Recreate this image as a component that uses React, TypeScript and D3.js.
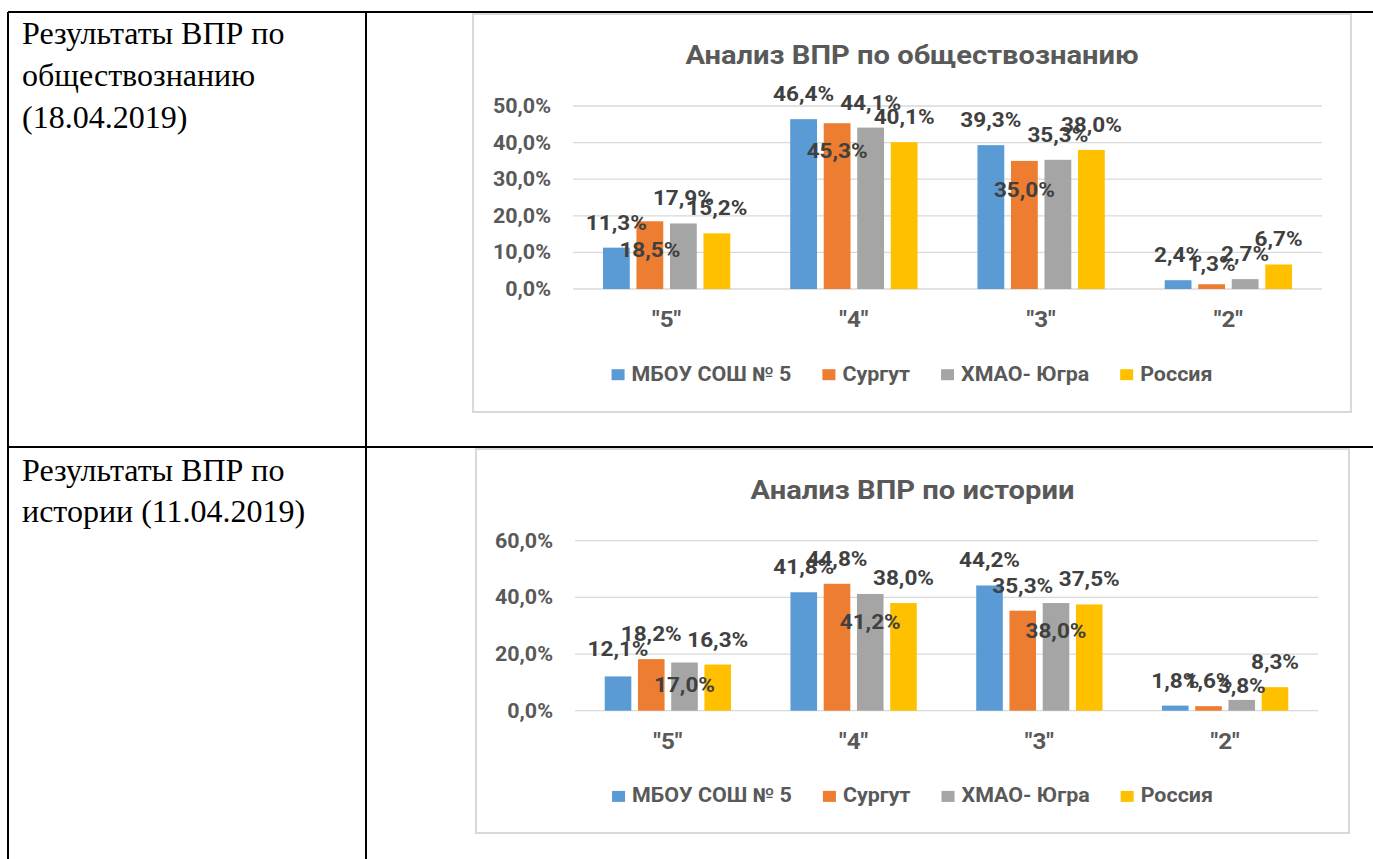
import React, { useEffect, useRef } from 'react';
import * as d3 from 'd3';

const categories = ['"5"', '"4"', '"3"', '"2"'];
const seriesNames = ['МБОУ СОШ № 5', 'Сургут', 'ХМАО- Югра', 'Россия'];
const seriesColors = ['#5B9BD5', '#ED7D31', '#A5A5A5', '#FFC000'];

// Анализ ВПР по обществознанию (доли)
const socialMbou = [0.113, 0.464, 0.393, 0.024];
const socialSurgut = [0.185, 0.453, 0.35, 0.013];
const socialHmao = [0.179, 0.441, 0.353, 0.027];
const socialRussia = [0.152, 0.401, 0.38, 0.067];

// Анализ ВПР по истории (доли)
const historyMbou = [0.121, 0.418, 0.442, 0.018];
const historySurgut = [0.182, 0.448, 0.353, 0.016];
const historyHmao = [0.17, 0.412, 0.38, 0.038];
const historyRussia = [0.163, 0.38, 0.375, 0.083];

// labels that were dragged by hand in the original (px down from the usual spot)
const socialLabelShift = [[0, 0, 0, 0], [54, 53, 54, 5], [0, 0, 0, 0], [0, 0, 0, 0]];
const historyLabelShift = [[-2, 0, 0, 0], [0, 0, 0, 0], [47, 53, 53, 11], [0, 0, 0, 0]];

const rowTexts = [
  ['Результаты ВПР по', 'обществознанию', '(18.04.2019)'],
  ['Результаты ВПР по', 'истории (11.04.2019)'],
];

const SANS = 'Roboto, "Noto Sans", sans-serif';
const SX = 1.1; // the chart picture is a bit stretched sideways

const fmt = d3.formatLocale({ decimal: ',', thousands: ' ', grouping: [3], currency: ['', ''] }).format('.1%');

interface ChartCfg {
  title: string;
  values: number[][];
  shift: number[][];
  yMax: number;
  yStep: number;
  frame: { x: number; y: number; w: number; h: number };
  plot: { left: number; right: number; top: number; bottom: number };
  titleY: number;
}

const charts: ChartCfg[] = [
  {
    title: 'Анализ ВПР по обществознанию',
    values: [socialMbou, socialSurgut, socialHmao, socialRussia],
    shift: socialLabelShift,
    yMax: 0.5,
    yStep: 0.1,
    frame: { x: 473, y: 14, w: 878, h: 398 },
    plot: { left: 573, right: 1322, top: 106, bottom: 289 },
    titleY: 64,
  },
  {
    title: 'Анализ ВПР по истории',
    values: [historyMbou, historySurgut, historyHmao, historyRussia],
    shift: historyLabelShift,
    yMax: 0.6,
    yStep: 0.2,
    frame: { x: 476, y: 449, w: 873, h: 384 },
    plot: { left: 575, right: 1318, top: 540.7, bottom: 710.7 },
    titleY: 499,
  },
];

const st = (x: number, y: number) => `translate(${x},${y}) scale(${SX},1)`;

function drawChart(svg: d3.Selection<SVGSVGElement, unknown, null, undefined>, cfg: ChartCfg) {
  const g = svg.append('g');
  const { frame, plot } = cfg;
  const cx = frame.x + frame.w / 2;

  g.append('rect')
    .attr('x', frame.x).attr('y', frame.y)
    .attr('width', frame.w).attr('height', frame.h)
    .attr('fill', '#fff').attr('stroke', '#D9D9D9').attr('stroke-width', 2);

  g.append('text')
    .attr('transform', st(cx, cfg.titleY))
    .attr('text-anchor', 'middle')
    .attr('font-family', SANS).attr('font-size', 26.5).attr('font-weight', 'bold')
    .attr('fill', '#595959')
    .text(cfg.title);

  const y = d3.scaleLinear().domain([0, cfg.yMax]).range([plot.bottom, plot.top]);
  const ticks = d3.range(0, cfg.yMax + 1e-9, cfg.yStep);

  g.selectAll('line.grid').data(ticks).enter().append('line')
    .attr('x1', plot.left).attr('x2', plot.right)
    .attr('y1', d => y(d)).attr('y2', d => y(d))
    .attr('stroke', '#D9D9D9').attr('stroke-width', 1.3);

  g.selectAll('text.ytick').data(ticks).enter().append('text')
    .attr('transform', d => st(plot.left - 22, y(d) + 7))
    .attr('text-anchor', 'end')
    .attr('font-family', SANS).attr('font-size', 19.5).attr('font-weight', 'bold')
    .attr('fill', '#595959')
    .text(d => fmt(d));

  const x0 = d3.scaleBand().domain(categories).range([plot.left, plot.right]);
  const bw = x0.bandwidth();
  const gw = bw * 0.68;
  const x1 = d3.scaleBand().domain(seriesNames).range([(bw - gw) / 2, (bw + gw) / 2]).paddingInner(0.2);

  cfg.values.forEach((vals, si) => {
    const name = seriesNames[si];
    g.selectAll(`rect.s${si}`).data(vals).enter().append('rect')
      .attr('x', (d, i) => (x0(categories[i]) as number) + (x1(name) as number))
      .attr('y', d => y(d))
      .attr('width', x1.bandwidth())
      .attr('height', d => plot.bottom - y(d))
      .attr('fill', seriesColors[si]);
  });

  cfg.values.forEach((vals, si) => {
    const name = seriesNames[si];
    g.selectAll(`text.l${si}`).data(vals).enter().append('text')
      .attr('transform', (d, i) => st(
        (x0(categories[i]) as number) + (x1(name) as number) + x1.bandwidth() / 2,
        y(d) - 18 + cfg.shift[si][i]))
      .attr('text-anchor', 'middle')
      .attr('font-family', SANS).attr('font-size', 20.5).attr('font-weight', 'bold')
      .attr('fill', '#404040')
      .text(d => fmt(d));
  });

  g.selectAll('text.cat').data(categories).enter().append('text')
    .attr('transform', d => st((x0(d) as number) + bw / 2, plot.bottom + 38))
    .attr('text-anchor', 'middle')
    .attr('font-family', SANS).attr('font-size', 22).attr('font-weight', 'bold')
    .attr('fill', '#595959')
    .text(d => d);

  // legend, centred under the chart
  const ly = plot.bottom + 91.7;
  const leg = g.append('g');
  const items = seriesNames.map((name, i) => {
    const it = leg.append('g');
    it.append('rect').attr('x', 0).attr('y', -11.5).attr('width', 13).attr('height', 11)
      .attr('fill', seriesColors[i]);
    const t = it.append('text')
      .attr('transform', st(20, 0))
      .attr('font-family', SANS).attr('font-size', 19.5).attr('font-weight', 'bold')
      .attr('fill', '#595959')
      .text(name);
    const w = 20 + (t.node() as SVGTextElement).getComputedTextLength() * SX;
    return { it, w };
  });
  const gap = 31;
  const total = d3.sum(items, d => d.w) + gap * (items.length - 1);
  let lx = cx - total / 2;
  items.forEach(({ it, w }) => {
    it.attr('transform', `translate(${lx},${ly})`);
    lx += w + gap;
  });
}

const App: React.FC = () => {
  const ref = useRef<SVGSVGElement | null>(null);

  useEffect(() => {
    const svg = d3.select(ref.current as SVGSVGElement);
    svg.selectAll('*').remove();

    svg.append('rect').attr('width', 1373).attr('height', 859).attr('fill', '#fff');

    charts.forEach(c => drawChart(svg, c));

    // table lines
    const lines = [
      [8, 12, 1373, 12],
      [8, 447, 1373, 447],
      [8, 12, 8, 859],
      [366, 12, 366, 859],
    ];
    svg.selectAll('line.tbl').data(lines).enter().append('line')
      .attr('x1', d => d[0]).attr('y1', d => d[1])
      .attr('x2', d => d[2]).attr('y2', d => d[3])
      .attr('stroke', '#000').attr('stroke-width', 2);

    const rowTop = [44, 481];
    const lineStep = [42, 41];
    rowTexts.forEach((rows, r) => {
      svg.selectAll(`text.row${r}`).data(rows).enter().append('text')
        .attr('x', 22)
        .attr('y', (d, i) => rowTop[r] + i * lineStep[r])
        .attr('font-family', '"Liberation Serif", "Times New Roman", serif')
        .attr('font-size', 32)
        .attr('fill', '#000')
        .text(d => d);
    });
  }, []);

  return (
    <svg ref={ref} width={1373} height={859}
      style={{ position: 'absolute', left: 0, top: 0, display: 'block' }} />
  );
};

export default App;
